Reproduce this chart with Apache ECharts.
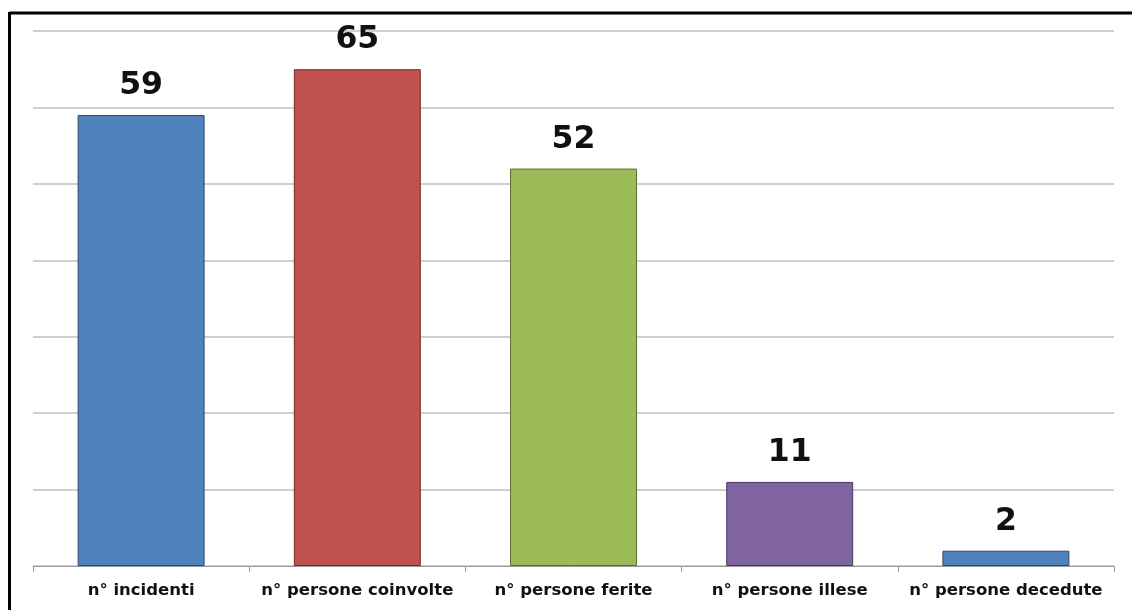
<!DOCTYPE html>
<html>
<head>
<meta charset="utf-8">
<script src="https://cdn.jsdelivr.net/npm/echarts@6/dist/echarts.min.js"></script>
<style>
html,body{margin:0;padding:0;background:#fff;}
#c{width:1132px;height:610px;}
</style>
</head>
<body>
<div id="c"></div>
<script>
const categories = ['n° incidenti','n° persone coinvolte','n° persone ferite','n° persone illese','n° persone decedute'];
const values = [59, 65, 52, 11, 2];
const colors = ['#4F81BD','#C0504D','#9BBB59','#8064A2','#4F81BD'];
const borders = ['#2f4a6e','#6e2e2c','#5a6e34','#4a3a60','#2f4a6e'];

const chart = echarts.init(document.getElementById('c'), null, {renderer:'canvas'});
chart.setOption({
  animation:false,
  graphic:[
    {type:'line', shape:{x1:9.5,y1:13,x2:1132,y2:13}, style:{stroke:'#000',lineWidth:3}},
    {type:'line', shape:{x1:9.5,y1:12,x2:9.5,y2:610}, style:{stroke:'#000',lineWidth:3}}
  ],
  grid:{left:33,right:18,top:31,bottom:44},
  xAxis:{
    type:'category',
    data:categories,
    axisLine:{lineStyle:{color:'#9a9a9a',width:1}},
    axisTick:{show:true,interval:0,length:6,lineStyle:{color:'#9a9a9a'}},
    axisLabel:{interval:0,color:'#111',fontFamily:'DejaVu Sans',fontWeight:'bold',fontSize:16.5,margin:16}
  },
  yAxis:{
    type:'value',min:0,max:70,interval:10,
    axisLabel:{show:false},
    axisLine:{show:false},
    axisTick:{show:false},
    splitLine:{lineStyle:{color:'#bfbfbf',width:1.5}}
  },
  series:[{
    type:'bar',
    data:values.map((v,i)=>({value:v,itemStyle:{color:colors[i],borderColor:borders[i],borderWidth:1}})),
    barWidth:127,
    label:{show:true,position:'top',distance:13,color:'#111',fontFamily:'DejaVu Sans',fontWeight:'bold',fontSize:31.5}
  }]
});
</script>
</body>
</html>
